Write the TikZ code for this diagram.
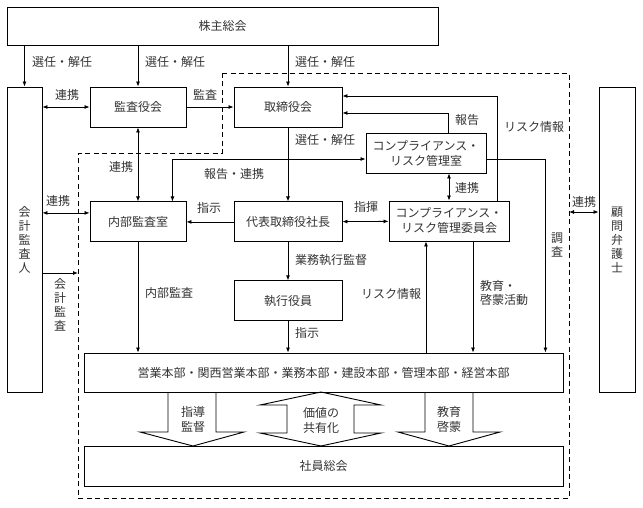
\documentclass[tikz,border=0pt]{standalone}
\usepackage{fontspec}
\setmainfont{Noto Sans CJK JP}
\usetikzlibrary{arrows.meta}
\usetikzlibrary{positioning}
\usetikzlibrary{calc}
\newcommand{\hfnt}{\fontsize{12}{15}\selectfont}
\newcommand{\vfnt}{\fontsize{12}{14}\selectfont}

\begin{document}
\begin{tikzpicture}[x=1pt, y=-1pt, node distance=20pt,
    box/.style={draw, line width=0.9pt, minimum height=40pt, text=black!80, font=\hfnt, align=center},
    vbox/.style={box, font=\vfnt},
    lbl/.style={inner sep=0pt, text=black!80, font=\hfnt, align=center},
    vlbl/.style={inner sep=0pt, text=black!80, font=\vfnt, align=center},
    conn/.style={line width=0.8pt, -{Latex[length=5pt,width=4pt]}},
    both/.style={line width=0.8pt, {Latex[length=5pt,width=4pt]}-{Latex[length=5pt,width=4pt]}},
    frame/.style={line width=1pt, dash pattern=on 5pt off 3.5pt},
    blk/.style={draw, line width=0.9pt}]

    \useasboundingbox (0,0) rectangle (643,507);

    % dashed area
    \draw[frame] (222,73) -- (569,73) -- (569,498) -- (78,498) -- (78,153) -- (222,153) -- cycle;
    \coordinate(FL) at (78,273);
    \coordinate(FR) at (569,212);

    \node(GM)[box, minimum width=431pt, minimum height=38pt] at (222.5,26){株主総会};
    \node(AUD)[vbox, minimum width=35pt, minimum height=305pt] at (24.5,239.5){会\\計\\監\\査\\人};
    \node(LW)[vbox, minimum width=36pt, minimum height=305pt] at (617,239.5){顧\\問\\弁\\護\\士};
    \node(AB)[box, minimum width=96pt] at (138,107){監査役会};
    \node(BD)[box, minimum width=108pt] at (288,107){取締役会};
    \node(CR)[box, minimum width=120pt] at (426,153){コンプライアンス・\\リスク管理室};
    \node(IA)[box, minimum width=96pt, below=74pt of AB]{内部監査室};
    \node(PR)[box, minimum width=108pt, below=74pt of BD]{代表取締役社長};
    \node(CC)[box, minimum width=120pt] at (449,221){コンプライアンス・\\リスク管理委員会};
    \node(EO)[box, minimum width=108pt, below=38pt of PR]{執行役員};
    \node(DV)[box, minimum width=479pt, minimum height=39pt] at (323.5,372.5){営業本部・関西営業本部・業務本部・建設本部・管理本部・経営本部};
    \node(EM)[box, minimum width=479pt] at (323.5,466){社員総会};

    \coordinate(IAa) at ($(IA.north east)+(-14,0)$);
    \coordinate(IAw) at ($(IA.west)+(0,-9)$);
    \coordinate(CRw) at ($(CR.west)+(0,6)$);
    \coordinate(CRe) at ($(CR.east)+(0,6)$);
    \coordinate(CRn) at ($(CR.north west)+(83,0)$);
    \coordinate(CCn) at ($(CC.north east)+(-12,0)$);
    \coordinate(CCa) at ($(CC.south)+(-23,0)$);
    \coordinate(CCb) at ($(CC.south)+(24,0)$);
    \coordinate(DVr) at ($(DV.north east)+(-18,0)$);

    \draw[conn] (GM.south -| AUD) -- (AUD.north);
    \draw[conn] (GM.south -| AB) -- (AB.north);
    \draw[conn] (GM.south -| BD) -- (BD.north);
    \draw[both] (AUD.east |- AB) -- (AB.west);
    \draw[conn] (AB) -- (BD);
    \draw[both] (AB) -- (IA);
    \draw[conn] (BD) -- (PR);
    \draw[both] (IAa) |- (CRw);
    \draw[conn] (CRn) |- ($(BD.east)+(0,6)$);
    \draw[conn] (CCn) |- ($(BD.east)+(0,-11)$);
    \draw[conn] (CRe) -| (DVr);
    \draw[both] (CR.south -| CC) -- (CC.north);
    \draw[conn] (PR) -- (IA);
    \draw[both] (PR) -- (CC);
    \draw[both] (AUD.east |- IAw) -- (IAw);
    \draw[conn] (AUD.east |- FL) -- (FL);
    \draw[both] (FR) -- (LW.west |- FR);
    \draw[conn] (IA) -- (IA |- DV.north);
    \draw[conn] (PR) -- (EO);
    \draw[conn] (EO) -- (EO |- DV.north);
    \draw[conn] (CCa |- DV.north) -- (CCa);
    \draw[conn] (CCb) -- (CCb |- DV.north);

    % block arrows
    \draw[blk] (168,392) -- (168,432) -- (140,432) -- (193,446) -- (244,432) -- (216,432) -- (216,392);
    \draw[blk] (287,405) -- (260,405) -- (321,392) -- (381,405) -- (354,405) -- (354,433) -- (381,433) -- (321,446) -- (260,433) -- (287,433) -- cycle;
    \draw[blk] (425,392) -- (425,432) -- (398,432) -- (449,446) -- (500,432) -- (473,432) -- (473,392);

    \node(L1)[lbl, anchor=west] at (32,62){選任・解任};
    \node(L2)[lbl, anchor=west] at (145,62){選任・解任};
    \node(L3)[lbl, anchor=west] at (295,62){選任・解任};
    \node(L4)[lbl] at (67,95){連携};
    \node(L5)[lbl] at (205,95){監査};
    \node(L6)[lbl] at (121,167){連携};
    \node(L7)[lbl] at (234,174){報告・連携};
    \node(L8)[lbl, anchor=west] at (295,140){選任・解任};
    \node(L9)[lbl] at (467,120){報告};
    \node(L10)[lbl] at (534,127){リスク情報};
    \node(L11)[lbl] at (467,188){連携};
    \node(L12)[lbl] at (366,207){指揮};
    \node(L13)[lbl] at (209,208){指示};
    \node(L14)[lbl] at (58,201){連携};
    \node(L15)[vlbl] at (60,305){会\\計\\監\\査};
    \node(L16)[lbl] at (169,293){内部監査};
    \node(L17)[lbl, anchor=west] at (295,260){業務執行監督};
    \node(L18)[lbl, anchor=west] at (295,333){指示};
    \node(L19)[lbl] at (391,294){リスク情報};
    \node(L20)[lbl, anchor=west, align=left, font=\fontsize{12}{14}\selectfont] at (480,293){教育・\\啓蒙活動};
    \node(L21)[vlbl] at (557,245){調\\査};
    \node(L22)[lbl] at (584,202){連携};
    \node(L23)[lbl] at (193,419){指導\\監督};
    \node(L24)[lbl] at (321,420){価値の\\共有化};
    \node(L25)[lbl] at (449,419){教育\\啓蒙};

\end{tikzpicture}
\end{document}
